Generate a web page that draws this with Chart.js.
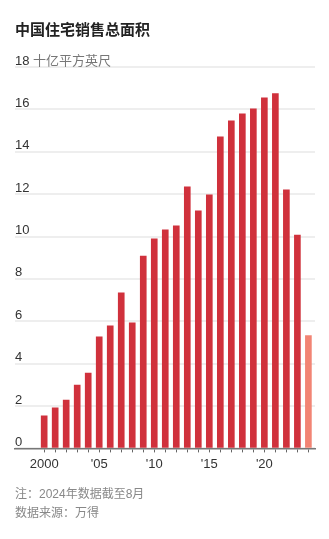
<!DOCTYPE html>
<html>
<head>
<meta charset="utf-8">
<script src="https://cdn.jsdelivr.net/npm/chart.js@4"></script>
<style>
  html, body { margin: 0; padding: 0; background: #fff; }
  #wrap { position: relative; width: 329px; height: 539px; }
  #title { position: absolute; left: 15px; top: 21px; font: bold 15px/18px "Liberation Sans", "Noto Sans CJK SC", sans-serif; color: #222; }
  #note { position: absolute; left: 15px; top: 485px; font: 12px/19px "Liberation Sans", "Noto Sans CJK SC", sans-serif; color: #888; }
  canvas { position: absolute; left: 0; top: 0; }
</style>
</head>
<body>
<div id="wrap">
  <canvas id="myChart" width="329" height="539"></canvas>
  <div id="title">中国住宅销售总面积</div>
  <div id="note">注：2024年数据截至8月<br>数据来源：万得</div>
</div>
<script>
const years = [2000, 2001, 2002, 2003, 2004, 2005, 2006, 2007, 2008, 2009,
               2010, 2011, 2012, 2013, 2014, 2015, 2016, 2017, 2018, 2019,
               2020, 2021, 2022, 2023, 2024];
// billion sq ft
const salesArea = [1.54, 1.92, 2.28, 2.99, 3.56, 5.26, 5.78, 7.34, 5.93, 9.08,
                   9.89, 10.32, 10.5, 12.34, 11.21, 11.97, 14.7, 15.46, 15.79, 16.03,
                   16.55, 16.74, 12.2, 10.07, 5.33];
const partialYear = 2024;
const xLabelYears = [2000, 2005, 2010, 2015, 2020];
const yTicks = [0, 2, 4, 6, 8, 10, 12, 14, 16, 18];
const unitLabel = '十亿平方英尺';

const fontFamily = '"Liberation Sans", "Noto Sans CJK SC", sans-serif';

const unitPlugin = {
    id: 'unitLabel',
    afterDraw(chart) {
        const y = chart.scales.y;
        const ctx = chart.ctx;
        ctx.save();
        ctx.font = '13px ' + fontFamily;
        const top = yTicks[yTicks.length - 1];
        const x0 = chart.chartArea.left + ctx.measureText(top + ' ').width;
        ctx.fillStyle = '#777';
        ctx.textBaseline = 'middle';
        ctx.textAlign = 'left';
        ctx.fillText(unitLabel, x0, y.getPixelForValue(top) - 6);
        ctx.restore();
    }
};

const ctx = document.getElementById('myChart');

new Chart(ctx, {
    type: 'bar',
    data: {
        datasets: [{
            data: years.map((yr, i) => ({ x: yr, y: salesArea[i] })),
            backgroundColor: c => c.raw && c.raw.x === partialYear ? '#f28474' : '#d0313c',
            barThickness: 6,
            borderWidth: 0
        }]
    },
    options: {
        responsive: false,
        animation: false,
        layout: { padding: { left: 15, right: 14, top: 67, bottom: 63 } },
        scales: {
            x: {
                type: 'linear',
                offset: false,
                min: 1997.35,
                max: 2024.6,
                afterBuildTicks: axis => {
                    axis.ticks = years.map(v => ({ value: v }));
                },
                grid: { offset: false, drawOnChartArea: false, tickLength: 4, tickColor: '#666', tickWidth: 1 },
                border: { color: '#777', width: 1.5 },
                ticks: {
                    autoSkip: false,
                    maxRotation: 0,
                    padding: 4,
                    color: '#333',
                    font: { size: 13, family: fontFamily },
                    callback: v => {
                        if (!xLabelYears.includes(v)) return '';
                        return v === 2000 ? '2000' : "'" + String(v).slice(2);
                    }
                }
            },
            y: {
                min: 0,
                max: 18,
                afterBuildTicks: axis => {
                    axis.ticks = yTicks.map(v => ({ value: v }));
                },
                grid: { color: '#eeeeee', lineWidth: 2, drawTicks: false },
                border: { display: false },
                ticks: {
                    mirror: true,
                    padding: 0,
                    labelOffset: -6,
                    color: '#333',
                    font: { size: 13, family: fontFamily }
                }
            }
        },
        plugins: {
            legend: { display: false },
            tooltip: { enabled: false }
        }
    },
    plugins: [unitPlugin]
});
</script>
</body>
</html>
